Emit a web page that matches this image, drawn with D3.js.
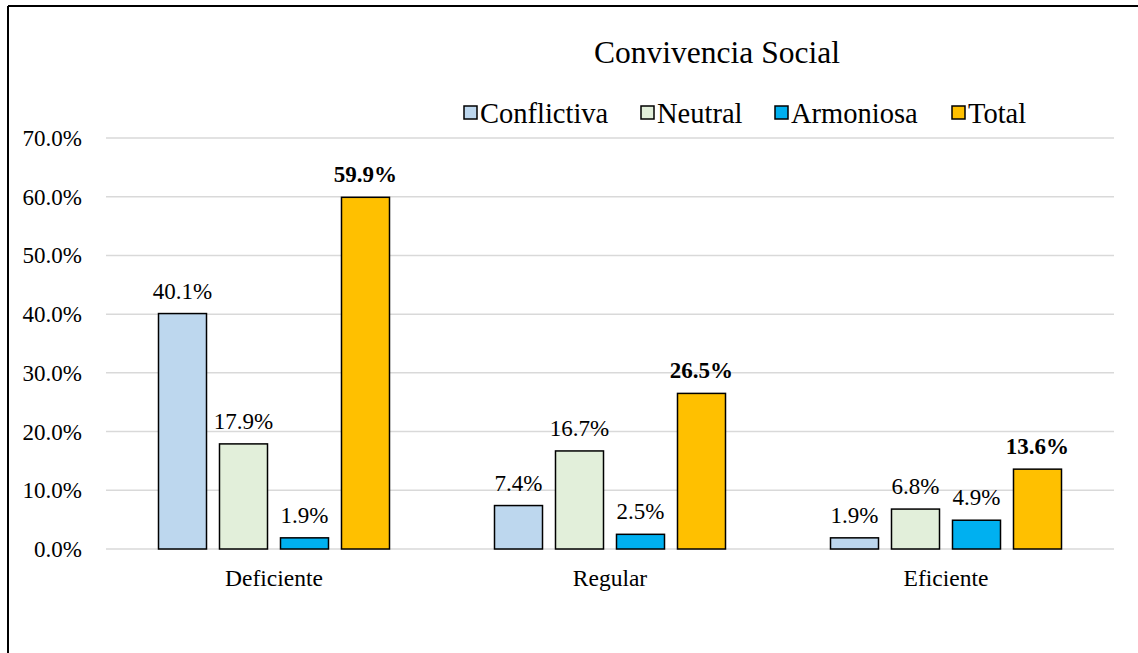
<!DOCTYPE html>
<html>
<head>
<meta charset="utf-8">
<script src="https://cdn.jsdelivr.net/npm/d3@7"></script>
<style>
    body { margin: 0; background: #fff; }
    svg text { font-family: "Liberation Serif", "Times New Roman", serif; fill: #000; }
</style>
</head>
<body>
<svg id="chart" width="1138" height="653"></svg>
<script>
// datos
var categories = ["Deficiente", "Regular", "Eficiente"];
var series = ["Conflictiva", "Neutral", "Armoniosa", "Total"];
var conflictiva = [40.1, 7.4, 1.9];
var neutral = [17.9, 16.7, 6.8];
var armoniosa = [1.9, 2.5, 4.9];
var total = [59.9, 26.5, 13.6];
var yTicks = [0, 10, 20, 30, 40, 50, 60, 70];
var colors = ["#BDD7EE", "#E2EFDA", "#00B0F0", "#FFC000"];

var values = [conflictiva, neutral, armoniosa, total];

var svg = d3.select("#chart");

// marco del grafico
svg.append("line").attr("x1", 8).attr("y1", 6).attr("x2", 1138).attr("y2", 6)
    .attr("stroke", "#000").attr("stroke-width", 2);
svg.append("line").attr("x1", 8).attr("y1", 6).attr("x2", 8).attr("y2", 653)
    .attr("stroke", "#000").attr("stroke-width", 2);

var plotLeft = 106, plotRight = 1114, plotTop = 138, plotBottom = 549;

var x = d3.scaleBand().domain(categories).range([plotLeft, plotRight]);
var x1 = d3.scaleBand().domain(series).range([0, 231]).paddingInner(0.213);
var y = d3.scaleLinear().domain([0, 70]).range([plotBottom, plotTop]);

// lineas de la grilla
svg.append("g").selectAll("line").data(yTicks).enter().append("line")
    .attr("x1", plotLeft).attr("x2", plotRight)
    .attr("y1", function (d) { return y(d); })
    .attr("y2", function (d) { return y(d); })
    .attr("stroke", "#d9d9d9").attr("stroke-width", 1.5);

// etiquetas eje y
svg.append("g").selectAll("text").data(yTicks).enter().append("text")
    .attr("x", 82).attr("y", function (d) { return y(d); })
    .attr("dy", "0.35em").attr("text-anchor", "end")
    .style("font-size", "23px")
    .text(function (d) { return d.toFixed(1) + "%"; });

// barras
var groups = svg.append("g").selectAll("g").data(categories).enter().append("g")
    .attr("transform", function (d) { return "translate(" + (x(d) + x.bandwidth() / 2 - 115.5) + ",0)"; });

function rows(c, i) {
    return series.map(function (s, j) { return {s: s, v: values[j][i], j: j}; });
}

groups.selectAll("rect").data(rows).enter().append("rect")
    .attr("x", function (d) { return x1(d.s); })
    .attr("width", x1.bandwidth())
    .attr("y", function (d) { return y(d.v); })
    .attr("height", function (d) { return y(0) - y(d.v); })
    .attr("fill", function (d) { return colors[d.j]; })
    .attr("stroke", "#000").attr("stroke-width", 1.5);

groups.selectAll("text.lbl").data(rows).enter().append("text")
    .attr("class", "lbl")
    .attr("x", function (d) { return x1(d.s) + x1.bandwidth() / 2; })
    .attr("y", function (d) { return y(d.v) - 15; })
    .attr("text-anchor", "middle")
    .style("font-size", "23px")
    .style("font-weight", function (d) { return d.j === 3 ? "bold" : "normal"; })
    .text(function (d) { return d.v.toFixed(1) + "%"; });

// etiquetas categorias
svg.append("g").selectAll("text").data(categories).enter().append("text")
    .attr("x", function (d) { return x(d) + x.bandwidth() / 2; })
    .attr("y", 586)
    .attr("text-anchor", "middle")
    .style("font-size", "23.5px")
    .text(function (d) { return d; });

// titulo
svg.append("text").attr("x", 717).attr("y", 63).attr("text-anchor", "middle")
    .style("font-size", "31.5px").text("Convivencia Social");

// leyenda
var legendX = [464, 641, 775, 952];
var legend = svg.append("g").selectAll("g").data(series).enter().append("g")
    .attr("transform", function (d, i) { return "translate(" + legendX[i] + ",106)"; });
legend.append("rect").attr("width", 13).attr("height", 13)
    .attr("fill", function (d, i) { return colors[i]; })
    .attr("stroke", "#000").attr("stroke-width", 1.5);
legend.append("text").attr("x", 16).attr("y", 7).attr("dy", "0.35em")
    .style("font-size", "28.5px").text(function (d) { return d; });
</script>
</body>
</html>
